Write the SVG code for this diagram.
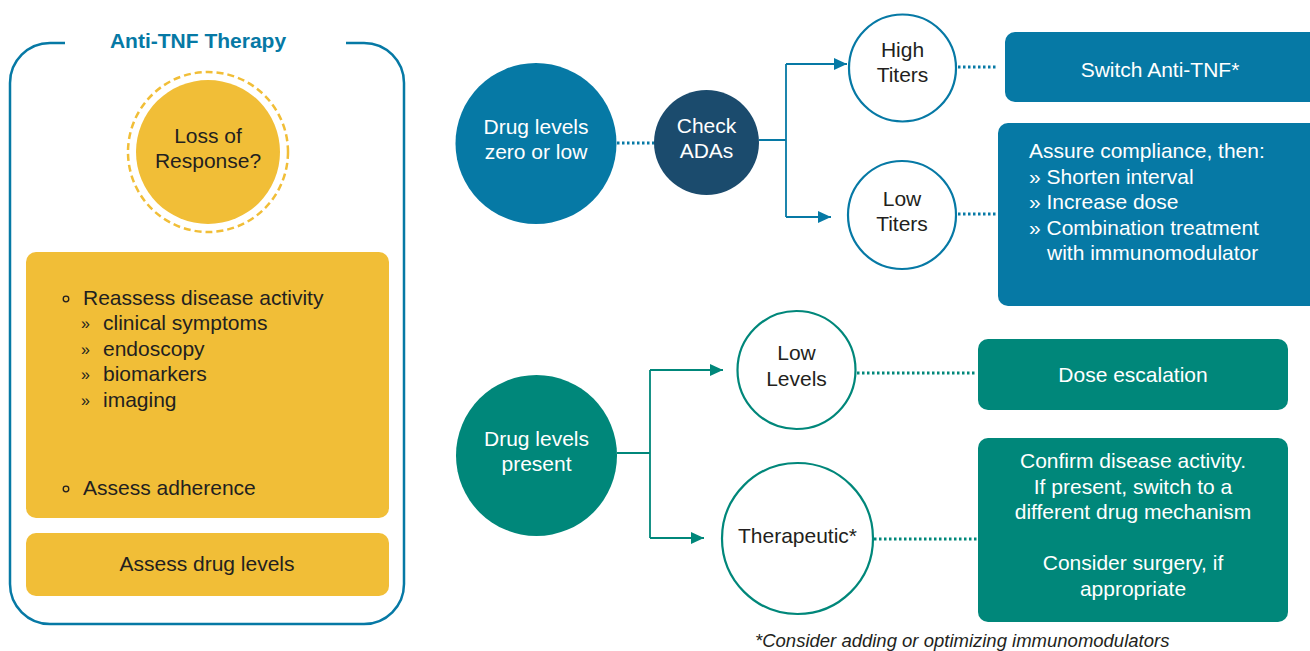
<svg xmlns="http://www.w3.org/2000/svg" width="1310" height="651" viewBox="0 0 1310 651">
<style>
text{font-family:"Liberation Sans",Arial,Helvetica,sans-serif;font-size:21px;}
.dk{fill:#231f20;}
.wh{fill:#ffffff;}
.mid{text-anchor:middle;}
.blue{fill:#0679a5;}
.navy{fill:#1b4b6d;}
.teal{fill:#00877a;}
.yel{fill:#f1be37;}
.ln{fill:none;stroke-width:1.8;}
.dot{fill:none;stroke-width:3;stroke-dasharray:2.5 2.5;}
</style>
<defs>
<marker id="ab" markerUnits="userSpaceOnUse" markerWidth="14" markerHeight="14" refX="13" refY="6" orient="auto"><path d="M0,0 L13,6 L0,12 z" fill="#0679a5"/></marker>
<marker id="at" markerUnits="userSpaceOnUse" markerWidth="14" markerHeight="14" refX="13" refY="6" orient="auto"><path d="M0,0 L13,6 L0,12 z" fill="#00877a"/></marker>
</defs>
<rect width="1310" height="651" fill="#ffffff"/>

<g id="frame">
<path d="M65,43 H50 A40,40 0 0 0 10,83 V584 A40,40 0 0 0 50,624 H364 A40,40 0 0 0 404,584 V83 A40,40 0 0 0 364,43 H346" fill="none" stroke="#0679a5" stroke-width="2.5"/>
<text x="198" y="48" class="mid" style="font-weight:bold;fill:#0679a5">Anti-TNF Therapy</text>
</g>

<g id="loss">
<circle cx="208" cy="152" r="80" fill="none" stroke="#f1be37" stroke-width="2.5" stroke-dasharray="7 4"/>
<circle cx="208" cy="152" r="72" class="yel"/>
<text x="208" y="143" class="mid dk">Loss of</text>
<text x="208" y="168" class="mid dk">Response?</text>
</g>

<g id="reassess">
<rect x="26" y="252" width="363" height="266" rx="10" class="yel"/>
<circle cx="66" cy="299" r="2.8" fill="none" stroke="#231f20" stroke-width="1.3"/>
<text x="83" y="305" class="dk">Reassess disease activity</text>
<text x="81" y="329" class="dk" style="font-size:16px">»</text>
<text x="103" y="330" class="dk">clinical symptoms</text>
<text x="81" y="355" class="dk" style="font-size:16px">»</text>
<text x="103" y="356" class="dk">endoscopy</text>
<text x="81" y="380" class="dk" style="font-size:16px">»</text>
<text x="103" y="381" class="dk">biomarkers</text>
<text x="81" y="406" class="dk" style="font-size:16px">»</text>
<text x="103" y="407" class="dk">imaging</text>
<circle cx="66" cy="489" r="2.8" fill="none" stroke="#231f20" stroke-width="1.3"/>
<text x="83" y="495" class="dk">Assess adherence</text>
</g>

<g id="assess">
<rect x="26" y="533" width="363" height="63" rx="10" class="yel"/>
<text x="207" y="571" class="mid dk">Assess drug levels</text>
</g>

<g id="connectors">
<line x1="617" y1="143" x2="655" y2="143" class="dot" stroke="#0679a5"/>
<path d="M759,140 H786 M786,64 V217" class="ln" stroke="#0679a5"/>
<line x1="786" y1="64" x2="847" y2="64" class="ln" stroke="#0679a5" marker-end="url(#ab)"/>
<line x1="786" y1="217" x2="831" y2="217" class="ln" stroke="#0679a5" marker-end="url(#ab)"/>
<line x1="958" y1="67" x2="998" y2="67" class="dot" stroke="#0679a5"/>
<line x1="958" y1="214" x2="998" y2="214" class="dot" stroke="#0679a5"/>
<path d="M617,453 H650 M650,370 V538" class="ln" stroke="#00877a"/>
<line x1="650" y1="370" x2="723" y2="370" class="ln" stroke="#00877a" marker-end="url(#at)"/>
<line x1="650" y1="538" x2="704" y2="538" class="ln" stroke="#00877a" marker-end="url(#at)"/>
<line x1="857" y1="373" x2="977" y2="373" class="dot" stroke="#00877a"/>
<line x1="874" y1="539" x2="977" y2="539" class="dot" stroke="#00877a"/>
</g>

<g id="zero">
<circle cx="536" cy="143.5" r="80.5" class="blue"/>
<text x="536" y="134" class="mid wh">Drug levels</text>
<text x="536" y="159" class="mid wh">zero or low</text>
</g>

<g id="ada">
<circle cx="706.5" cy="142.5" r="52.5" class="navy"/>
<text x="706.5" y="133" class="mid wh">Check</text>
<text x="706.5" y="158" class="mid wh">ADAs</text>
</g>

<g id="high">
<circle cx="902.5" cy="68" r="53.5" fill="#ffffff" stroke="#0679a5" stroke-width="2.2"/>
<text x="902.5" y="57" class="mid dk">High</text>
<text x="902.5" y="82" class="mid dk">Titers</text>
</g>

<g id="lowt">
<circle cx="902" cy="215" r="54" fill="#ffffff" stroke="#0679a5" stroke-width="2.2"/>
<text x="902" y="206" class="mid dk">Low</text>
<text x="902" y="231" class="mid dk">Titers</text>
</g>

<g id="switch">
<rect x="1005" y="32" width="320" height="70" rx="10" class="blue"/>
<text x="1160" y="77" class="mid wh">Switch Anti-TNF*</text>
</g>

<g id="assure">
<rect x="998" y="123" width="327" height="183" rx="10" class="blue"/>
<text x="1029" y="158" class="wh">Assure compliance, then:</text>
<text x="1029" y="184" class="wh">» Shorten interval</text>
<text x="1029" y="209" class="wh">» Increase dose</text>
<text x="1029" y="235" class="wh">» Combination treatment</text>
<text x="1047" y="260" class="wh">with immunomodulator</text>
</g>

<g id="present">
<circle cx="536.5" cy="455.5" r="80.5" class="teal"/>
<text x="536.5" y="446" class="mid wh">Drug levels</text>
<text x="536.5" y="471" class="mid wh">present</text>
</g>

<g id="lowl">
<circle cx="796.5" cy="370" r="59" fill="#ffffff" stroke="#00877a" stroke-width="2.2"/>
<text x="796.5" y="360" class="mid dk">Low</text>
<text x="796.5" y="386" class="mid dk">Levels</text>
</g>

<g id="thera">
<circle cx="797.5" cy="538.5" r="75.5" fill="#ffffff" stroke="#00877a" stroke-width="2.2"/>
<text x="797.5" y="543" class="mid dk">Therapeutic*</text>
</g>

<g id="dose">
<rect x="978" y="339" width="310" height="71" rx="10" class="teal"/>
<text x="1133" y="382" class="mid wh">Dose escalation</text>
</g>

<g id="confirm">
<rect x="978" y="438" width="310" height="184" rx="10" class="teal"/>
<text x="1133" y="468" class="mid wh">Confirm disease activity.</text>
<text x="1133" y="494" class="mid wh">If present, switch to a</text>
<text x="1133" y="519" class="mid wh">different drug mechanism</text>
<text x="1133" y="570" class="mid wh">Consider surgery, if</text>
<text x="1133" y="596" class="mid wh">appropriate</text>
</g>

<g id="footnote">
<text x="755" y="647" class="dk" style="font-style:italic;font-size:18.5px">*Consider adding or optimizing immunomodulators</text>
</g>
</svg>
